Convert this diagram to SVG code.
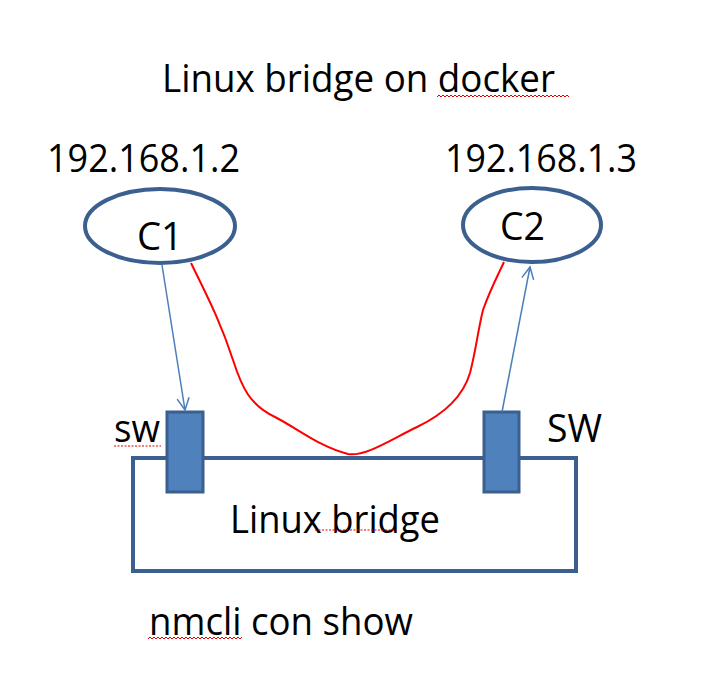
<svg xmlns="http://www.w3.org/2000/svg" width="723" height="674" viewBox="0 0 723 674">
<style>
text{font-family:"Open Sans","Noto Sans",sans-serif;fill:#000;font-size:39px}
.node{fill:none;stroke:#3B5F8F;stroke-width:4}
.port{fill:#4F81BD;stroke:#3B5F8F;stroke-width:3}
.blue{fill:none;stroke:#4A7EBB;stroke-width:1.5}
.red{fill:none;stroke:#FF0000;stroke-width:2}
.sq{fill:none;stroke:#E00000;stroke-width:1}
</style>
<defs>
<marker id="ah" markerUnits="userSpaceOnUse" markerWidth="20" markerHeight="20" refX="13" refY="7" orient="auto">
<path d="M1,1 L13,7 L1,13" fill="none" stroke="#4A7EBB" stroke-width="1.5"/>
</marker>
</defs>
<rect width="723" height="674" fill="#fff"/>
<g id="title">
<text x="162" y="92" textLength="393" lengthAdjust="spacingAndGlyphs">Linux bridge on docker</text>
<path class="sq" d="M437,97 l2,-2 l2,2 l2,-2 l2,2 l2,-2 l2,2 l2,-2 l2,2 l2,-2 l2,2 l2,-2 l2,2 l2,-2 l2,2 l2,-2 l2,2 l2,-2 l2,2 l2,-2 l2,2 l2,-2 l2,2 l2,-2 l2,2 l2,-2 l2,2 l2,-2 l2,2 l2,-2 l2,2 l2,-2 l2,2 l2,-2 l2,2 l2,-2 l2,2 l2,-2 l2,2 l2,-2 l2,2 l2,-2 l2,2 l2,-2 l2,2 l2,-2 l2,2 l2,-2 l2,2 l2,-2 l2,2 l2,-2 l2,2 l2,-2 l2,2 l2,-2 l2,2 l2,-2 l2,2 l2,-2 l2,2 l2,-2 l2,2 l2,-2 l2,2 l2,-2 l2,2"/>
</g>
<g id="ip1"><text x="47" y="172" textLength="193" lengthAdjust="spacingAndGlyphs">192.168.1.2</text></g>
<g id="ip2"><text x="445" y="172" textLength="192" lengthAdjust="spacingAndGlyphs">192.168.1.3</text></g>
<g id="c1">
<ellipse class="node" cx="160" cy="226" rx="75" ry="37"/>
<text x="137" y="250" textLength="46" lengthAdjust="spacingAndGlyphs">C1</text>
</g>
<g id="c2">
<ellipse class="node" cx="532" cy="225" rx="69" ry="37"/>
<text x="500" y="240" textLength="45" lengthAdjust="spacingAndGlyphs">C2</text>
</g>
<g id="bridge">
<rect class="node" x="133" y="458" width="443" height="113"/>
<text x="230" y="533" textLength="210" lengthAdjust="spacingAndGlyphs">Linux bridge</text>
<path class="sq" d="M315,530 h82" stroke-dasharray="2,1.5"/>
</g>
<g id="port-left">
<rect class="port" x="167" y="412" width="36" height="80"/>
<text x="114" y="442" textLength="46" lengthAdjust="spacingAndGlyphs">sw</text>
<path class="sq" d="M114,446 h47" stroke-dasharray="2,1.5"/>
</g>
<g id="port-right">
<rect class="port" x="484" y="412" width="35" height="80"/>
<text x="547" y="442" textLength="55" lengthAdjust="spacingAndGlyphs">SW</text>
</g>
<g id="connectors">
<path class="blue" d="M162,265 L185,410" marker-end="url(#ah)"/>
<path class="blue" d="M502,412 L530,267" marker-end="url(#ah)"/>
<path class="red" d="M191,263 C205,292 220,320 233,360 C242,388 250,405 275,417 C300,430 320,447 348,454 C365,457 390,440 417,427 C440,416 462,400 470,373 C476,350 478,330 483,310 C490,290 498,275 504,262"/>
</g>
<g id="footer">
<text x="149" y="635" textLength="264" lengthAdjust="spacingAndGlyphs">nmcli con show</text>
<path class="sq" d="M148,639 l2,-2 l2,2 l2,-2 l2,2 l2,-2 l2,2 l2,-2 l2,2 l2,-2 l2,2 l2,-2 l2,2 l2,-2 l2,2 l2,-2 l2,2 l2,-2 l2,2 l2,-2 l2,2 l2,-2 l2,2 l2,-2 l2,2 l2,-2 l2,2 l2,-2 l2,2 l2,-2 l2,2 l2,-2 l2,2 l2,-2 l2,2 l2,-2 l2,2 l2,-2 l2,2 l2,-2 l2,2 l2,-2 l2,2 l2,-2 l2,2 l2,-2 l2,2 l2,-2"/>
</g>
</svg>
